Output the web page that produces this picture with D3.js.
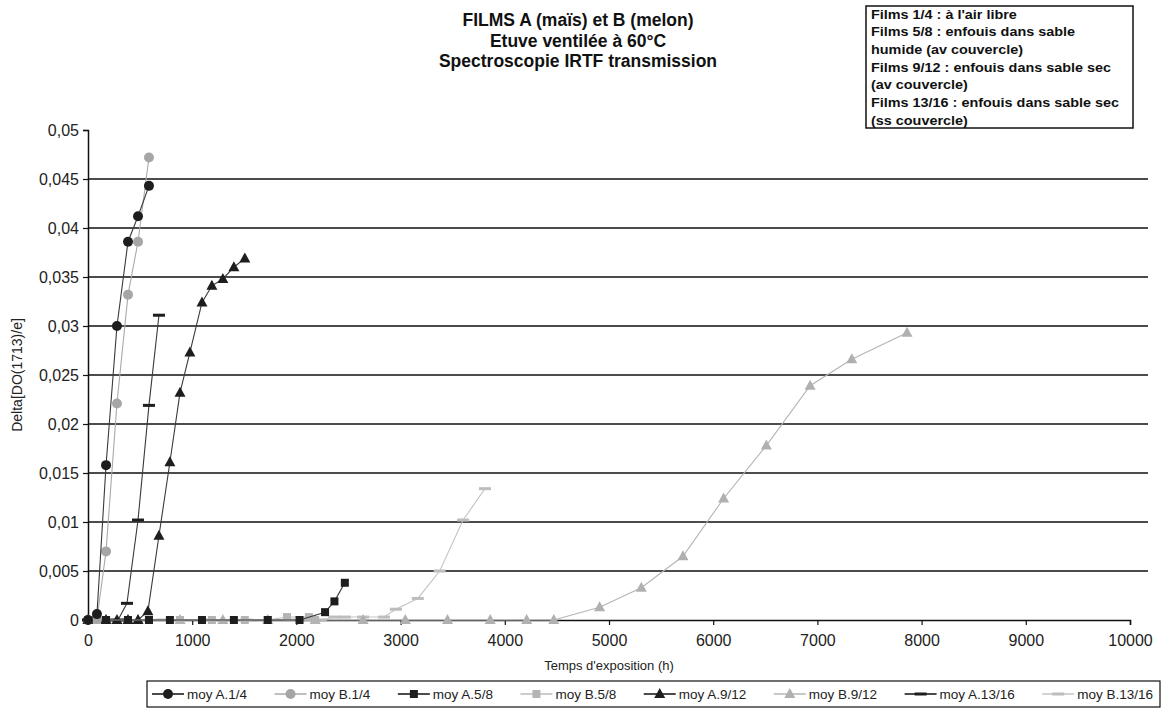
<!DOCTYPE html>
<html>
<head>
<meta charset="utf-8">
<script src="https://cdn.jsdelivr.net/npm/d3@7"></script>
<style>
  body { margin: 0; background: #fff; }
  svg { font-family: "Liberation Sans", Arial, sans-serif; }
</style>
</head>
<body>
<svg id="chart" width="1174" height="724"></svg>
<script>
// time (h) / Delta[DO(1713)/e] pairs
const moyA14 = [[0, 0], [86, 0.0006], [173, 0.0158], [278, 0.030], [384, 0.0386], [480, 0.0412], [585, 0.0443]];
const moyB14 = [[0, 0], [86, 0.0001], [173, 0.0070], [278, 0.0221], [384, 0.0332], [480, 0.0386], [585, 0.0472]];
const moyA58 = [[0, 0], [173, 0], [384, 0], [585, 0], [786, 0], [1094, 0], [1400, 0], [1725, 0], [2030, 0], [2275, 0.0008], [2365, 0.0019], [2465, 0.0038]];
const moyB58 = [[0, 0], [86, 0], [173, 0], [384, 0], [585, 0], [883, 0], [1189, 0], [1505, 0], [1725, 0], [1910, 0.0003], [2120, 0.0003], [2180, 0]];
const moyA912 = [[0, 0], [86, 0], [173, 0], [278, 0], [384, 0], [480, 0], [575, 0.0009], [681, 0.0086], [786, 0.0161], [883, 0.0232], [978, 0.0273], [1094, 0.0324], [1189, 0.0341], [1294, 0.0348], [1400, 0.0360], [1505, 0.0369]];
const moyB912 = [[0, 0], [173, 0], [480, 0], [883, 0], [1294, 0], [1725, 0], [2180, 0], [2640, 0], [3045, 0], [3450, 0], [3860, 0], [4210, 0], [4470, 0], [4910, 0.0013], [5310, 0.0033], [5710, 0.0065], [6100, 0.0124], [6510, 0.0178], [6930, 0.0239], [7330, 0.0266], [7860, 0.0293]];
const moyA1316 = [[0, 0], [86, 0], [173, 0], [288, 0], [374, 0.0017], [480, 0.0102], [585, 0.0219], [681, 0.0311]];
const moyB1316 = [[0, 0], [300, 0], [710, 0], [1120, 0], [1520, 0], [1930, 0], [2235, 0], [2365, 0.0003], [2465, 0.0003], [2640, 0.0003], [2840, 0.0003], [2955, 0.0011], [3165, 0.0022], [3375, 0.0050], [3600, 0.0102], [3810, 0.0134]];

const seriesNames = ["moy A.1/4", "moy B.1/4", "moy A.5/8", "moy B.5/8", "moy A.9/12", "moy B.9/12", "moy A.13/16", "moy B.13/16"];
const xTicks = [0, 1000, 2000, 3000, 4000, 5000, 6000, 7000, 8000, 9000, 10000];
const yTicks = [0, 0.005, 0.01, 0.015, 0.02, 0.025, 0.03, 0.035, 0.04, 0.045, 0.05];
const titleLines = ["FILMS A (maïs) et B (melon)", "Etuve ventilée à 60°C", "Spectroscopie IRTF transmission"];
const noteLines = ["Films 1/4 : à l'air libre", "Films 5/8 : enfouis dans sable", "humide (av couvercle)", "Films 9/12 : enfouis dans sable sec", "(av couvercle)", "Films 13/16 : enfouis dans sable sec", "(ss couvercle)"];

const series = [
  { name: seriesNames[0], data: moyA14, color: "#1e1e1e", line: "#3a3a3a", marker: "circle" },
  { name: seriesNames[1], data: moyB14, color: "#a6a6a6", line: "#aaa", marker: "circle" },
  { name: seriesNames[2], data: moyA58, color: "#1e1e1e", line: "#3a3a3a", marker: "square" },
  { name: seriesNames[3], data: moyB58, color: "#b4b4b4", line: "#bbb", marker: "square" },
  { name: seriesNames[4], data: moyA912, color: "#1e1e1e", line: "#3a3a3a", marker: "triangle" },
  { name: seriesNames[5], data: moyB912, color: "#b0b0b0", line: "#b4b4b4", marker: "triangle" },
  { name: seriesNames[6], data: moyA1316, color: "#1e1e1e", line: "#3a3a3a", marker: "dash" },
  { name: seriesNames[7], data: moyB1316, color: "#bdbdbd", line: "#c4c4c4", marker: "dash" }
];

const svg = d3.select("#chart");
const plotLeft = 88, plotRight = 1130, gridRight = 1148, plotTop = 130, plotBottom = 620;

let x = d3.scaleLinear().domain([0, 10000]).range([plotLeft, plotRight]);
let y = d3.scaleLinear().domain([0, 0.05]).range([plotBottom, plotTop]);

const fr = d3.formatLocale({ decimal: ",", thousands: "", grouping: [3], currency: ["", ""] });
const yFmt = v => v === 0 ? "0" : fr.format("~g")(v);

// gridlines
svg.append("g").selectAll("line")
  .data(yTicks.filter(d => d > 0 && d < 0.05))
  .join("line")
  .attr("x1", plotLeft).attr("x2", gridRight)
  .attr("y1", d => y(d)).attr("y2", d => y(d))
  .attr("stroke", "#111").attr("stroke-width", 1.4);

// axes
let yAxis = svg.append("g").attr("transform", `translate(${plotLeft},0)`)
  .call(d3.axisLeft(y).tickValues(yTicks).tickFormat(yFmt).tickSize(5).tickPadding(4));
let xAxis = svg.append("g").attr("transform", `translate(0,${plotBottom})`)
  .call(d3.axisBottom(x).tickValues(xTicks).tickFormat(d3.format("d")).tickSize(5).tickPadding(10));
[yAxis, xAxis].forEach(a => {
  a.select(".domain").attr("stroke", "#111").attr("stroke-width", 1.5);
  a.selectAll(".tick line").attr("stroke", "#111").attr("stroke-width", 1.2);
  a.selectAll("text").attr("font-size", 16).attr("fill", "#222")
    .attr("font-family", "Liberation Sans, Arial, sans-serif");
});

// markers
function drawMarker(g, type, color, cx, cy) {
  if (type == "circle") {
    g.append("circle").attr("cx", cx).attr("cy", cy).attr("r", 5).attr("fill", color);
  } else if (type == "square") {
    g.append("rect").attr("x", cx - 4).attr("y", cy - 4).attr("width", 8).attr("height", 8).attr("fill", color);
  } else if (type == "triangle") {
    g.append("path").attr("d", `M${cx},${cy - 6}L${cx + 5.5},${cy + 4}L${cx - 5.5},${cy + 4}Z`).attr("fill", color);
  } else {
    g.append("rect").attr("x", cx - 6).attr("y", cy - 1.5).attr("width", 12).attr("height", 3).attr("fill", color);
  }
}

const lineGen = d3.line().x(d => x(d[0])).y(d => y(d[1]));
const plot = svg.append("g");
series.slice().reverse().forEach(s => {
  let g = plot.append("g");
  g.append("path").datum(s.data).attr("d", lineGen)
    .attr("fill", "none").attr("stroke", s.line).attr("stroke-width", 1.1);
  s.data.forEach(d => drawMarker(g, s.marker, s.color, x(d[0]), y(d[1])));
});

// title
svg.append("text").attr("x", 578).attr("y", 26).attr("text-anchor", "middle")
  .attr("font-size", 17.5).attr("font-weight", "bold").attr("fill", "#111")
  .selectAll("tspan").data(titleLines).join("tspan")
  .attr("x", 578).attr("dy", (d, i) => i == 0 ? 0 : 20.5).text(d => d);

// note box
svg.append("rect").attr("x", 866).attr("y", 6).attr("width", 267).attr("height", 122)
  .attr("fill", "#fff").attr("stroke", "#111").attr("stroke-width", 1.5);
svg.append("g").selectAll("text").data(noteLines).join("text")
  .attr("transform", (d, i) => `translate(871,${18.5 + i * 17.7}) scale(1.2,1)`)
  .attr("font-size", 12).attr("font-weight", "bold").attr("fill", "#111")
  .text(d => d);

// axis titles
svg.append("text").attr("transform", "translate(22,375) rotate(-90)")
  .attr("text-anchor", "middle").attr("font-size", 14).attr("fill", "#222")
  .text("Delta[DO(1713)/e]");
svg.append("text").attr("x", (plotLeft + plotRight) / 2).attr("y", 670).attr("text-anchor", "middle")
  .attr("font-size", 13).attr("fill", "#222").text("Temps d'exposition (h)");

// legend
svg.append("rect").attr("x", 147).attr("y", 681).attr("width", 1013).attr("height", 26)
  .attr("fill", "#fff").attr("stroke", "#111").attr("stroke-width", 1.2);
let legItems = series.map(s => {
  let g = svg.append("g");
  let t = g.append("text").attr("y", 699).attr("font-size", 13.5).attr("fill", "#222").text(s.name);
  return { s: s, g: g, t: t, w: t.node().getComputedTextLength() };
});
const symW = 32, legStart = 152, legEnd = 1153;
let used = d3.sum(legItems, d => symW + 3 + d.w);
let gap = (legEnd - legStart - used) / (legItems.length - 1);
let lx = legStart;
legItems.forEach(it => {
  it.g.insert("line", "text").attr("x1", lx).attr("x2", lx + symW).attr("y1", 694).attr("y2", 694)
    .attr("stroke", it.s.line == "#3a3a3a" ? "#111" : it.s.line).attr("stroke-width", 1.5);
  drawMarker(it.g, it.s.marker, it.s.color, lx + symW / 2, 694);
  it.t.attr("x", lx + symW + 3);
  lx += symW + 3 + it.w + gap;
});
</script>
</body>
</html>
